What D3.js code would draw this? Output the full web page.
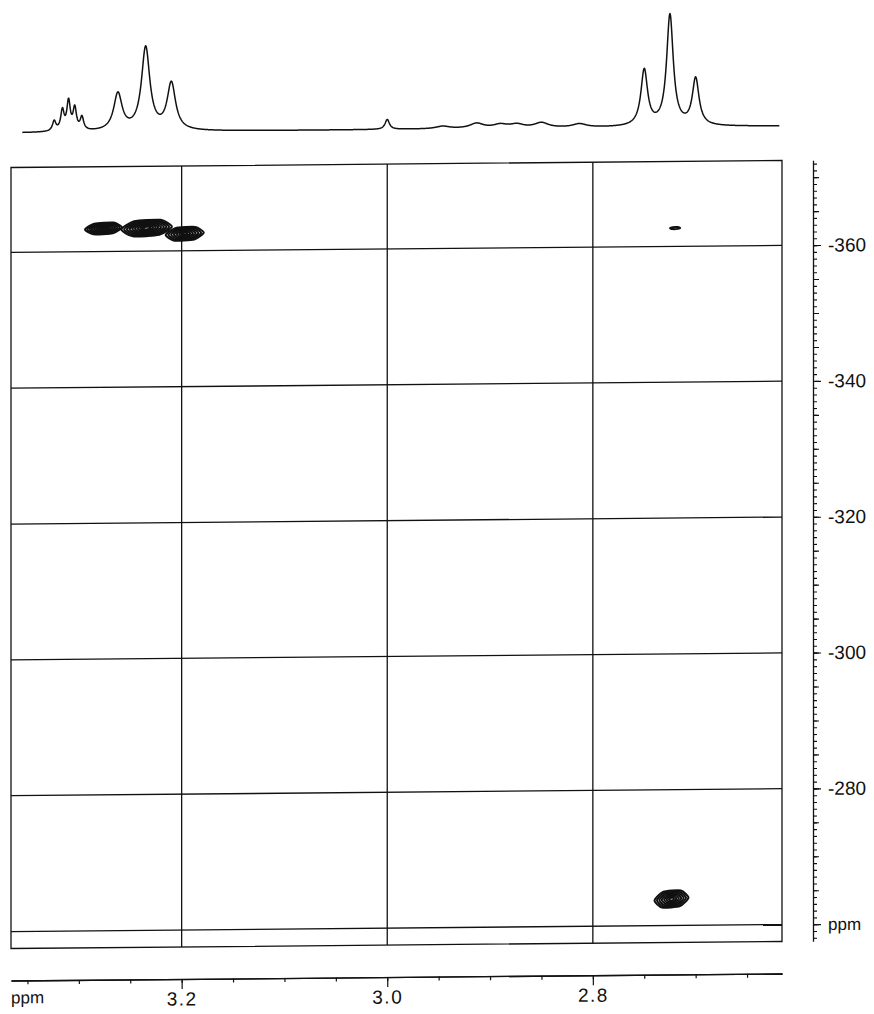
<!DOCTYPE html>
<html>
<head>
<meta charset="utf-8">
<script src="https://cdn.jsdelivr.net/npm/d3@7"></script>
<style>
body { margin: 0; background: #fff; }
text { font-family: "Liberation Sans", Arial, sans-serif; fill: #111; }
</style>
</head>
<body>
<div id="chart"></div>
<script>
const width = 874;
const height = 1014;

// 1D proton trace on top, read off as a peak list:
// position (ppm), height (px above baseline), half width at half height (ppm)
const peakPpm    = [3.324, 3.316, 3.310, 3.304, 3.297, 3.262, 3.235, 3.210, 3.000,
                    2.946, 2.913, 2.890, 2.874, 2.850, 2.813, 2.750, 2.725, 2.700];
const peakHeight = [10, 20, 29, 22, 13, 37, 83, 47, 10,
                    2.5, 5, 3.5, 3.5, 5, 3.5, 56, 111, 47];
const peakWidth  = [0.002, 0.002, 0.002, 0.002, 0.002, 0.0049, 0.0049, 0.0049, 0.0025,
                    0.008, 0.008, 0.008, 0.008, 0.008, 0.008, 0.0039, 0.0039, 0.0039];

// 2D cross peaks: F2 (1H ppm), F1 (ppm), width (ppm), height (ppm), contour levels
const crossH      = [3.276, 3.234, 3.197, 2.7235, 2.720];
const crossX      = [-363.4, -363.4, -362.5, -263.9, -362.7];
const crossW      = [0.036, 0.049, 0.037, 0.033, 0.010];
const crossHt     = [1.7, 2.4, 2.0, 2.5, 0.3];
const crossLevels = [8, 9, 7, 7, 1];

// axes
const f2Labels = [3.2, 3.0, 2.8];
const f2Minor  = [3.35, 3.30, 3.25, 3.20, 3.15, 3.10, 3.05, 3.00, 2.95, 2.90, 2.85, 2.80, 2.75, 2.70, 2.65];
const f1Labels = [-360, -340, -320, -300, -280];
const f1Grid   = [-360, -340, -320, -300, -280, -260];

const xScale = d3.scaleLinear().domain([3.366, 2.616]).range([11, 782]);
const yScale = d3.scaleLinear().domain([-372.5, -257.5]).range([164, 945]);
const iScale = d3.scaleLinear().domain([0, 100]).range([129.5, 29.5]);

const svg = d3.select('#chart').append('svg')
    .attr('width', width)
    .attr('height', height);

// the scanned plot is slightly sheared: left side sits a few px lower than the right
const shear = Math.tan(-0.52 * Math.PI / 180);
const root = svg.append('g')
    .attr('transform', `matrix(1,${shear},0,1,0,${-shear * 397})`);

// ---- top 1D trace
function intensity(ppm) {
    let s = 0;
    for (let i = 0; i < peakPpm.length; i++) {
        const d = (ppm - peakPpm[i]) / peakWidth[i];
        s += peakHeight[i] / (1 + d * d);
    }
    return s;
}
const trace = d3.range(3.355, 2.6185, -0.0004).map(p => [p, intensity(p)]);

root.append('path')
    .datum(trace)
    .attr('fill', 'none')
    .attr('stroke', '#111')
    .attr('stroke-width', 1.5)
    .attr('stroke-linejoin', 'round')
    .attr('d', d3.line().x(d => xScale(d[0])).y(d => iScale(d[1])));

// ---- plot frame and grid
const x0 = xScale.range()[0], x1 = xScale.range()[1];
const y0 = yScale.range()[0], y1 = yScale.range()[1];
const plot = root.append('g')
    .attr('stroke', '#111')
    .attr('stroke-width', 1.3)
    .attr('fill', 'none');

plot.append('rect')
    .attr('x', x0).attr('y', y0)
    .attr('width', x1 - x0).attr('height', y1 - y0);

plot.selectAll('line.v')
    .data(f2Labels)
    .enter().append('line')
    .attr('class', 'v')
    .attr('x1', d => xScale(d)).attr('x2', d => xScale(d))
    .attr('y1', y0).attr('y2', y1);

plot.selectAll('line.h')
    .data(f1Grid)
    .enter().append('line')
    .attr('class', 'h')
    .attr('x1', x0).attr('x2', x1)
    .attr('y1', d => yScale(d)).attr('y2', d => yScale(d));

// ---- contours
const shape = [[-1, 0.15], [-0.5, -0.85], [0.55, -1], [1, -0.15], [0.5, 0.85], [-0.55, 1]];
const ring = d3.line().curve(d3.curveCardinalClosed.tension(0.4));

const levels = [];
crossH.forEach((h, i) => {
    const cx = xScale(h), cy = yScale(crossX[i]);
    const rx = Math.abs(xScale(h + crossW[i] / 2) - cx);
    const ry = Math.abs(yScale(crossX[i] + crossHt[i] / 2) - cy);
    const n = crossLevels[i];
    for (let k = 0; k < n; k++) {
        const s = n === 1 ? 1 : 1 - k * 0.85 / (n - 1);
        levels.push(shape.map(p => [cx + p[0] * rx * s, cy + p[1] * ry * s]));
    }
});

root.append('g')
    .selectAll('path')
    .data(levels)
    .enter().append('path')
    .attr('d', d => ring(d))
    .attr('fill', 'none')
    .attr('stroke', '#111')
    .attr('stroke-width', 2);

// ---- bottom axis (F2)
const axisY = 977;
const bottom = root.append('g').attr('transform', `translate(0,${axisY})`);
bottom.call(d3.axisBottom(xScale).tickValues(f2Minor).tickSize(4).tickSizeOuter(0).tickFormat(''));
bottom.append('g')
    .call(d3.axisBottom(xScale).tickValues(f2Labels).tickSize(10).tickSizeOuter(0)
        .tickPadding(3).tickFormat(d3.format('.1f')));
bottom.selectAll('path.domain').attr('stroke', '#111').attr('stroke-width', 1.3);
bottom.selectAll('line').attr('stroke', '#111').attr('stroke-width', 1.2);
bottom.selectAll('text')
    .attr('font-size', 19)
    .attr('letter-spacing', 1.5)
    .attr('fill', '#111');

root.append('text')
    .attr('x', 11)
    .attr('y', 1000)
    .attr('font-size', 17)
    .text('ppm');

// ---- right axis (F1)
const axisX = 813;
const right = root.append('g').attr('transform', `translate(${axisX},0)`);
const f1Minor = d3.range(-372, -257, 1);
right.call(d3.axisRight(yScale).tickValues(f1Minor).tickSize(4).tickSizeOuter(0).tickFormat(''));
right.append('g')
    .call(d3.axisRight(yScale).tickValues(f1Minor.filter(d => d % 5 === 0)).tickSize(6).tickFormat(''))
    .select('path.domain').remove();
right.append('g')
    .call(d3.axisRight(yScale).tickValues(f1Labels.concat([-260])).tickSize(8).tickPadding(7)
        .tickFormat(d => d === -260 ? 'ppm' : String(d)))
    .select('path.domain').remove();
right.selectAll('path.domain').attr('stroke', '#111').attr('stroke-width', 1.3);
right.selectAll('line').attr('stroke', '#111').attr('stroke-width', 1.1);
right.selectAll('text')
    .attr('font-size', d => d === -260 ? 17 : 19)
    .attr('fill', '#111');
</script>
</body>
</html>
